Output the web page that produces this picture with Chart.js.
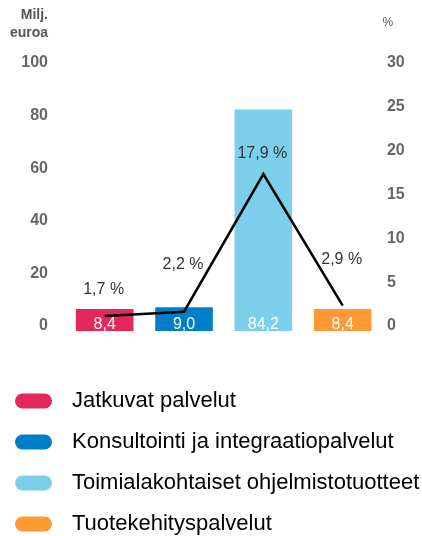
<!DOCTYPE html>
<html>
<head>
<meta charset="utf-8">
<script src="https://cdn.jsdelivr.net/npm/chart.js@4/dist/chart.umd.min.js"></script>
<style>
html,body{margin:0;padding:0;overflow:hidden;background:#fff;width:422px;height:536px}
#wrap{position:relative;width:422px;height:545px}
</style>
</head>
<body>
<div id="wrap"><canvas id="c"></canvas></div>
<script>
// ---- data ----
const categories = ['Jatkuvat palvelut', 'Konsultointi ja integraatiopalvelut', 'Toimialakohtaiset ohjelmistotuotteet', 'Tuotekehityspalvelut'];
const revenueMEUR = [8.4, 9.0, 84.2, 8.4];
const sharePct = [1.7, 2.2, 17.9, 2.9];
const leftTicks = [0, 20, 40, 60, 80, 100];
const rightTicks = [0, 5, 10, 15, 20, 25, 30];
const leftUnit = ['Milj.', 'euroa'];
const rightUnit = '%';

// ---- style ----
const colors = ['#e5285a', '#007fc8', '#7ccfea', '#ff9933'];
const FONT = "'Liberation Sans', Arial, Helvetica, sans-serif";
Chart.defaults.font.family = FONT;
const fmt = v => v.toFixed(1).replace('.', ',');

function pill(color) {
  const c = document.createElement('canvas');
  c.width = 50; c.height = 16;
  const g = c.getContext('2d');
  g.fillStyle = color;
  const x = 0, y = 0.5, w = 37, h = 15, r = 7.5;
  g.beginPath();
  g.moveTo(x + r, y);
  g.lineTo(x + w - r, y);
  g.arc(x + w - r, y + r, r, -Math.PI / 2, Math.PI / 2);
  g.lineTo(x + r, y + h);
  g.arc(x + r, y + r, r, Math.PI / 2, Math.PI * 1.5);
  g.closePath();
  g.fill();
  return c;
}
const pills = colors.map(pill);

const annot = {
  id: 'annot',
  afterDatasetDraw(chart, args) {
    if (args.index !== 0) return;
    const ctx = chart.ctx;
    const y0 = chart.scales.y.getPixelForValue(0);
    ctx.save();
    ctx.font = '16px ' + FONT;
    ctx.fillStyle = '#ffffff';
    ctx.textAlign = 'center';
    ctx.textBaseline = 'alphabetic';
    args.meta.data.forEach((bar, i) => {
      ctx.fillText(fmt(revenueMEUR[i]), bar.x, y0 - 2.5);
    });
    ctx.restore();
  },
  afterDatasetsDraw(chart, args, opts) {
    const ctx = chart.ctx;
    const meta = chart.getDatasetMeta(1);
    ctx.save();
    ctx.font = '16px ' + FONT;
    ctx.fillStyle = '#333333';
    ctx.textAlign = 'center';
    ctx.textBaseline = 'alphabetic';
    meta.data.forEach((pt, i) => {
      ctx.fillText(fmt(sharePct[i]) + ' %', pt.x - 1, pt.y + opts.offsets[i]);
    });
    // axis units
    const yl = chart.scales.y, yr = chart.scales.y1;
    ctx.fillStyle = '#555555';
    ctx.textAlign = 'right';
    ctx.font = 'bold 14px ' + FONT;
    ctx.fillText(leftUnit[0], yl.right - 17, 18.5);
    ctx.fillText(leftUnit[1], yl.right - 17, 37);
    ctx.textAlign = 'center';
    ctx.font = '12px ' + FONT;
    ctx.fillText(rightUnit, yr.left + 5.5, 26);
    ctx.restore();
  }
};

new Chart(document.getElementById('c'), {
  data: {
    labels: categories,
    datasets: [
      {
        type: 'bar',
        data: revenueMEUR,
        backgroundColor: colors,
        borderWidth: 0,
        barPercentage: 0.726,
        categoryPercentage: 1,
        yAxisID: 'y',
        order: 1
      },
      {
        type: 'line',
        data: sharePct,
        borderColor: '#000000',
        borderWidth: 2.5,
        borderJoinStyle: 'miter',
        tension: 0,
        pointRadius: 0,
        fill: false,
        yAxisID: 'y1',
        order: 0
      }
    ]
  },
  options: {
    responsive: true,
    maintainAspectRatio: false,
    animation: false,
    layout: { padding: { top: 68, left: 0, right: 0, bottom: 0 } },
    scales: {
      x: {
        type: 'category',
        display: true,
        grid: { display: false },
        border: { display: false },
        ticks: { display: false },
        afterFit: s => { s.height = 40; }
      },
      y: {
        position: 'left',
        min: 0, max: 100,
        afterBuildTicks: s => { s.ticks = leftTicks.map(v => ({ value: v })); },
        grid: { display: false, drawTicks: false },
        border: { display: false },
        ticks: {
          padding: 17,
          labelOffset: -5,
          color: '#666666',
          font: { size: 16, weight: 'bold' }
        },
        afterFit: s => { s.width = 65; }
      },
      y1: {
        position: 'right',
        min: 0, max: 30,
        afterBuildTicks: s => { s.ticks = rightTicks.map(v => ({ value: v })); },
        grid: { display: false, drawTicks: false },
        border: { display: false },
        ticks: {
          padding: 4.5,
          labelOffset: -5,
          color: '#666666',
          font: { size: 16, weight: 'bold' }
        },
        afterFit: s => { s.width = 39.6; }
      }
    },
    plugins: {
      tooltip: { enabled: false },
      annot: { offsets: [-22, -43, -16, -42] },
      legend: {
        display: true,
        position: 'bottom',
        align: 'start',
        labels: {
          usePointStyle: true,
          pointStyleWidth: 42,
          padding: 19,
          color: '#4d4d4d',
          font: { size: 22 },
          generateLabels: () => categories.map((c, i) => ({
            text: c,
            fillStyle: colors[i],
            strokeStyle: colors[i],
            lineWidth: 0,
            pointStyle: pills[i],
            hidden: false,
            datasetIndex: 0,
            index: i
          }))
        }
      }
    }
  },
  plugins: [annot]
});
</script>
</body>
</html>
